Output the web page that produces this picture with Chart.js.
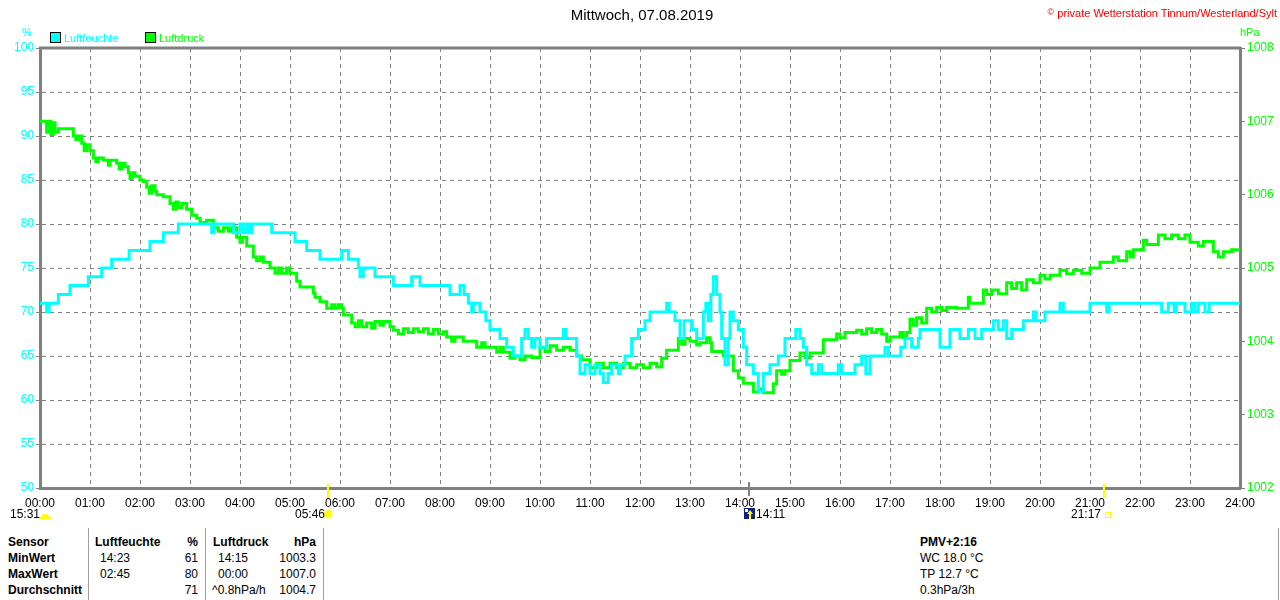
<!DOCTYPE html>
<html>
<head>
<meta charset="utf-8">
<script src="https://cdn.jsdelivr.net/npm/chart.js@4.4.1/dist/chart.umd.min.js"></script>
<style>
  html,body{margin:0;padding:0;background:#fff;}
  body{width:1280px;height:600px;position:relative;overflow:hidden;font-family:"Liberation Sans",Arial,sans-serif;}
  #wrap{position:absolute;left:0;top:0;width:1280px;height:520px;}
  .t{position:absolute;font-size:12px;line-height:14px;white-space:nowrap;color:#000;}
  .b{font-weight:bold;}
  .r{text-align:right;}
  .vl{position:absolute;width:1px;background:#a0a0a0;top:528px;height:72px;}
  .sq{position:absolute;width:9px;height:9px;border:1px solid #000;}
</style>
</head>
<body>
<div id="wrap"><canvas id="c"></canvas></div>

<div class="t" style="left:0;width:1284px;text-align:center;top:6px;font-size:15px;line-height:17px;">Mittwoch, 07.08.2019</div>
<div class="t" style="right:3px;top:5px;font-size:11px;color:#ff0000;"><span style="font-size:9px;vertical-align:2px;">©</span> private Wetterstation Tinnum/Westerland/Sylt</div>

<div class="sq" style="left:50px;top:32px;background:#00ffff;"></div>
<div class="t" style="left:64px;top:31px;font-size:11px;color:#00ffff;">Luftfeuchte</div>
<div class="sq" style="left:145px;top:32px;background:#00ff00;"></div>
<div class="t" style="left:159px;top:31px;font-size:11px;color:#00ff00;">Luftdruck</div>
<div class="t" style="left:22px;top:25px;font-size:11px;color:#00ffff;">%</div>
<div class="t" style="left:1240px;top:25px;font-size:11px;color:#00ff00;">hPa</div>

<div class="t" style="left:10px;top:507px;">15:31</div>
<div class="t" style="left:295px;top:507px;">05:46</div>
<div class="t" style="left:756px;top:507px;">14:11</div>
<div class="t" style="left:1071px;top:507px;">21:17</div>

<div class="vl" style="left:88px;"></div>
<div class="vl" style="left:205px;"></div>
<div class="vl" style="left:323px;"></div>
<div class="vl" style="left:1278px;"></div>

<div class="t b" style="left:8px;top:535px;">Sensor</div>
<div class="t b" style="left:8px;top:551px;">MinWert</div>
<div class="t b" style="left:8px;top:567px;">MaxWert</div>
<div class="t b" style="left:8px;top:583px;">Durchschnitt</div>

<div class="t b" style="left:95px;top:535px;">Luftfeuchte</div>
<div class="t b r" style="right:1082px;top:535px;">%</div>
<div class="t" style="left:100px;top:551px;">14:23</div>
<div class="t r" style="right:1082px;top:551px;">61</div>
<div class="t" style="left:100px;top:567px;">02:45</div>
<div class="t r" style="right:1082px;top:567px;">80</div>
<div class="t r" style="right:1082px;top:583px;">71</div>

<div class="t b" style="left:213px;top:535px;">Luftdruck</div>
<div class="t b r" style="right:964px;top:535px;">hPa</div>
<div class="t" style="left:218px;top:551px;">14:15</div>
<div class="t r" style="right:964px;top:551px;">1003.3</div>
<div class="t" style="left:218px;top:567px;">00:00</div>
<div class="t r" style="right:964px;top:567px;">1007.0</div>
<div class="t" style="left:212px;top:583px;">^0.8hPa/h</div>
<div class="t r" style="right:964px;top:583px;">1004.7</div>

<div class="t b" style="left:920px;top:535px;">PMV+2:16</div>
<div class="t" style="left:920px;top:551px;">WC 18.0 °C</div>
<div class="t" style="left:920px;top:567px;">TP 12.7 °C</div>
<div class="t" style="left:920px;top:583px;">0.3hPa/3h</div>

<script>
// ---- data (minutes since 00:00) ----
const humTime = [0,8,11,22,36,58,74,86,107,132,148,166,206,209,232,240,244,248,251,254,
  278,306,320,336,362,370,382,384,388,402,424,446,456,492,504,509,514,518,520,528,
  535,540,552,560,568,578,582,586,590,594,600,608,628,631,644,648,654,660,666,672,
  676,682,686,694,696,702,710,718,726,732,752,755,762,768,773,782,788,796,799,802,
  805,808,812,816,818,822,826,828,832,838,844,848,856,862,868,876,886,894,907,912,
  916,920,926,934,938,958,962,978,986,991,996,1014,1018,1033,1038,1046,1054,1056,1080,1092,
  1104,1114,1122,1130,1144,1150,1156,1160,1166,1180,1192,1195,1206,1224,1228,1260,1280,1283,1346,1354,
  1361,1363,1374,1382,1386,1390,1398,1403,1440];
const humValue = [71,70,71,72,73,74,75,76,77,78,79,80,79,80,79,80,79,80,79,80,
  79,78,77,76,77,76,75,74,75,74,73,74,73,72,73,72,71,70,71,70,
  69,68,67,66,65,67,68,67,66,67,66,67,68,67,65,63,64,63,64,63,
  62,63,64,63,64,65,67,68,69,70,71,70,69,67,69,68,67,70,71,69,
  72,74,72,70,67,64,67,70,69,68,66,64,63,61,63,64,65,67,68,67,
  66,64,63,64,63,64,63,64,65,63,65,66,65,66,67,66,67,68,66,68,
  67,68,67,68,69,68,69,67,68,69,70,69,70,71,70,71,70,71,70,71,
  70,71,70,71,70,71,70,71,71];

const presTime = [0,8,10,13,16,18,22,40,43,46,50,53,56,60,64,67,70,76,82,84,
  92,95,98,102,106,108,110,114,120,124,128,131,134,138,140,148,156,160,163,166,
  170,176,182,188,192,200,208,214,220,226,230,236,240,243,248,256,260,264,268,276,
  282,286,290,296,300,308,312,328,330,336,344,350,354,358,362,364,374,378,382,386,
  392,398,402,408,412,420,424,430,436,442,448,454,460,466,472,478,484,488,494,498,
  508,524,530,534,548,552,556,564,570,576,582,590,600,606,612,620,628,636,644,650,
  660,668,676,684,692,700,708,716,724,732,740,746,752,766,770,774,780,788,792,800,
  804,806,820,832,838,844,856,862,868,880,884,890,894,900,912,918,924,940,956,960,
  966,980,986,992,998,1004,1010,1016,1020,1032,1036,1040,1044,1048,1052,1058,1064,1070,1076,1082,
  1088,1100,1114,1116,1132,1136,1142,1150,1160,1166,1172,1178,1184,1192,1200,1206,1212,1224,1232,1240,
  1250,1260,1272,1288,1294,1304,1308,1312,1324,1328,1342,1350,1358,1366,1374,1380,1390,1396,1408,1414,
  1420,1430,1440];
const presValue = [1007.0,1006.85,1007.0,1006.82,1006.98,1006.85,1006.9,1006.8,1006.75,1006.8,1006.7,1006.6,1006.68,1006.6,1006.5,1006.45,1006.5,1006.47,1006.4,1006.47,
  1006.43,1006.35,1006.43,1006.38,1006.3,1006.22,1006.3,1006.25,1006.2,1006.18,1006.1,1006.02,1006.12,1006.05,1006.0,1005.97,1005.88,1005.8,1005.9,1005.82,
  1005.88,1005.8,1005.72,1005.68,1005.62,1005.65,1005.55,1005.5,1005.55,1005.5,1005.55,1005.42,1005.35,1005.42,1005.3,1005.15,1005.1,1005.15,1005.08,1005.0,
  1004.93,1005.0,1004.93,1005.0,1004.93,1004.82,1004.74,1004.66,1004.6,1004.54,1004.45,1004.5,1004.45,1004.5,1004.45,1004.36,1004.25,1004.2,1004.28,1004.2,
  1004.25,1004.18,1004.27,1004.22,1004.27,1004.2,1004.15,1004.1,1004.17,1004.12,1004.17,1004.13,1004.17,1004.1,1004.16,1004.1,1004.13,1004.06,1004.0,1004.06,
  1004.0,1003.92,1003.98,1003.92,1003.85,1003.92,1003.85,1003.77,1003.8,1003.75,1003.8,1003.78,1003.92,1003.86,1003.94,1003.88,1003.92,1003.88,1003.8,1003.75,
  1003.64,1003.7,1003.64,1003.7,1003.64,1003.7,1003.64,1003.68,1003.64,1003.7,1003.65,1003.77,1003.88,1004.04,1003.96,1004.04,1004.0,1003.95,1003.98,1004.05,
  1003.98,1003.86,1003.8,1003.6,1003.5,1003.43,1003.31,1003.35,1003.3,1003.42,1003.6,1003.55,1003.6,1003.74,1003.84,1003.78,1003.84,1004.02,1004.1,1004.05,
  1004.12,1004.15,1004.1,1004.17,1004.12,1004.16,1004.1,1004.0,1004.06,1004.12,1004.05,1004.12,1004.3,1004.22,1004.32,1004.25,1004.45,1004.4,1004.46,1004.42,
  1004.46,1004.45,1004.6,1004.52,1004.7,1004.64,1004.7,1004.65,1004.8,1004.72,1004.8,1004.7,1004.84,1004.8,1004.9,1004.85,1004.9,1004.97,1004.92,1004.97,
  1004.93,1005.0,1005.08,1005.15,1005.1,1005.22,1005.15,1005.25,1005.38,1005.32,1005.45,1005.4,1005.45,1005.4,1005.45,1005.35,1005.3,1005.36,1005.22,1005.15,
  1005.22,1005.25,1005.25];

const hourTicks = [0,60,120,180,240,300,360,420,480,540,600,660,720,780,840,900,960,1020,1080,1140,1200,1260,1320,1380,1440];
const sunMarks = [346, 1277];   // 05:46, 21:17
const noonMark = 851;           // 14:11

const toPts = (ts, vs) => ts.map((t, i) => ({x: t, y: vs[i]}));
const pad = n => String(n).padStart(2, '0');

const GRID = '#808080';
const FONT = {family: '"Liberation Sans", Arial', size: 12};

const extras = {
  id: 'extras',
  afterDraw(chart) {
    const {ctx, chartArea: a, scales} = chart;
    ctx.save();
    // top frame line
    ctx.strokeStyle = GRID; ctx.lineWidth = 3;
    ctx.beginPath(); ctx.moveTo(a.left - 1, a.top); ctx.lineTo(a.right + 1, a.top); ctx.stroke();
    // sunrise / sunset marks
    ctx.strokeStyle = '#ffff00'; ctx.lineWidth = 2;
    sunMarks.forEach(m => {
      const x = Math.round(scales.x.getPixelForValue(m));
      ctx.beginPath(); ctx.moveTo(x, a.bottom - 4); ctx.lineTo(x, a.bottom + 10); ctx.stroke();
    });
    const xn = Math.round(scales.x.getPixelForValue(noonMark));
    ctx.strokeStyle = GRID; ctx.lineWidth = 2;
    ctx.beginPath(); ctx.moveTo(xn, a.bottom - 6); ctx.lineTo(xn, a.bottom + 8); ctx.stroke();
    // half sun at left
    ctx.fillStyle = '#ffff00';
    ctx.beginPath(); ctx.arc(45, 518, 4, Math.PI, 0); ctx.fill();
    ctx.fillRect(40, 517, 11, 2);
    // sun at sunrise
    const xs = Math.round(scales.x.getPixelForValue(sunMarks[0]));
    ctx.fillStyle = '#ffffa0';
    ctx.beginPath(); ctx.arc(xs, 514, 5, 0, Math.PI * 2); ctx.fill();
    ctx.fillStyle = '#ffff00';
    ctx.beginPath(); ctx.arc(xs, 514, 3.5, 0, Math.PI * 2); ctx.fill();
    // noon icon
    ctx.fillStyle = '#102080';
    ctx.fillRect(xn - 5, 508, 11, 11);
    ctx.fillStyle = '#ffffff';
    ctx.fillRect(xn - 4, 509, 3, 3);
    ctx.fillStyle = '#ffff00';
    ctx.beginPath(); ctx.moveTo(xn + 1, 510); ctx.lineTo(xn + 4, 514); ctx.lineTo(xn - 2, 514); ctx.closePath(); ctx.fill();
    ctx.fillRect(xn, 514, 2, 5);
    // sunset small square
    const xe = Math.round(scales.x.getPixelForValue(sunMarks[1]));
    ctx.strokeStyle = '#ffff00'; ctx.lineWidth = 1;
    ctx.strokeRect(xe + 1.5, 512.5, 5, 5);
    ctx.restore();
  }
};

new Chart(document.getElementById('c'), {
  type: 'line',
  data: {
    datasets: [
      {
        label: 'Luftfeuchte',
        data: toPts(humTime, humValue),
        yAxisID: 'yH',
        borderColor: '#00ffff',
        borderWidth: 3,
        stepped: true,
        pointRadius: 0,
        fill: false
      },
      {
        label: 'Luftdruck',
        data: toPts(presTime, presValue),
        yAxisID: 'yP',
        borderColor: '#00ff00',
        borderWidth: 3,
        stepped: true,
        pointRadius: 0,
        fill: false
      }
    ]
  },
  options: {
    responsive: true,
    maintainAspectRatio: false,
    animation: false,
    devicePixelRatio: 1,
    layout: {padding: {top: 48, left: 0, right: 0, bottom: 0}},
    plugins: {legend: {display: false}, tooltip: {enabled: false}},
    scales: {
      x: {
        type: 'linear', min: 0, max: 1440,
        afterBuildTicks: s => { s.ticks = hourTicks.map(v => ({value: v})); },
        afterFit: s => { s.height = 32; },
        ticks: {
          color: '#000', font: FONT,
          maxRotation: 0, autoSkip: false, padding: 8,
          callback: v => pad(v / 60) + ':00'
        },
        grid: {color: GRID, lineWidth: 1, drawTicks: false},
        border: {color: GRID, width: 3, dash: [4, 4]}
      },
      yH: {
        position: 'left', min: 50, max: 100,
        afterFit: s => { s.width = 40; },
        ticks: {stepSize: 5, color: '#00ffff', font: FONT, padding: 2, callback: v => String(v)},
        grid: {color: GRID, lineWidth: 1, tickLength: 4, tickColor: GRID, tickBorderDash: []},
        border: {color: GRID, width: 3, dash: [4, 4]}
      },
      yP: {
        position: 'right', min: 1002, max: 1008,
        afterFit: s => { s.width = 40; },
        ticks: {stepSize: 1, color: '#00ff00', font: FONT, padding: 2, callback: v => String(v)},
        grid: {drawOnChartArea: false, tickLength: 5, tickColor: GRID, tickBorderDash: []},
        border: {color: GRID, width: 3}
      }
    }
  },
  plugins: [extras]
});
</script>
</body>
</html>
